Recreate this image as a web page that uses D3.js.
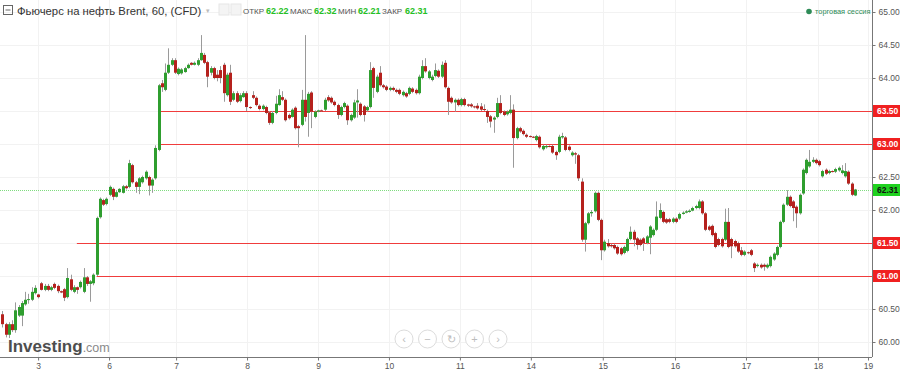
<!DOCTYPE html>
<html>
<head>
<meta charset="utf-8">
<script src="https://cdn.jsdelivr.net/npm/d3@7/dist/d3.min.js"></script>
<style>
  body { margin: 0; background: #fff; }
  svg { display: block; font-family: "Liberation Sans", Arial, sans-serif; }
</style>
</head>
<body>
<svg id="chart" width="900" height="371"></svg>
<script>
// hourly candles, [open, high, low, close]
const bars = [
  [60.42,60.47,60.22,60.27],[60.27,60.29,60.07,60.11],[60.11,60.30,60.06,60.27],[60.27,60.33,60.15,60.18],
  [60.18,60.60,60.14,60.48],[60.40,60.56,60.38,60.53],[60.40,60.62,60.24,60.59],[60.57,60.76,60.55,60.64],
  [60.64,60.73,60.58,60.65],[60.64,60.83,60.62,60.76],[60.74,60.86,60.72,60.82],[60.72,60.73,60.66,60.68],
  [60.89,60.91,60.78,60.79],[60.79,60.88,60.77,60.85],[60.85,60.88,60.77,60.79],[60.79,60.85,60.77,60.83],
  [60.88,60.90,60.80,60.82],[60.85,60.87,60.74,60.77],[60.77,60.78,60.74,60.75],[60.80,60.82,60.62,60.67],
  [60.68,61.12,60.66,60.97],[60.95,61.02,60.77,60.79],[60.76,60.86,60.74,60.83],[60.83,60.84,60.73,60.79],
  [60.83,60.93,60.81,60.91],[60.76,61.12,60.74,60.98],[60.98,61.00,60.85,60.88],[60.88,60.94,60.61,60.92],
  [60.89,61.04,60.86,61.02],[61.02,61.90,61.00,61.88],[61.89,62.19,61.87,62.17],[62.15,62.17,62.06,62.08],
  [62.09,62.19,62.07,62.17],[62.23,62.37,62.21,62.35],[62.32,62.34,62.15,62.20],[62.20,62.29,62.19,62.27],
  [62.27,62.33,62.26,62.32],[62.26,62.38,62.25,62.36],[62.36,62.38,62.31,62.33],[62.35,62.76,62.33,62.71],
  [62.68,62.70,62.40,62.42],[62.42,62.44,62.26,62.35],[62.35,62.50,62.24,62.48],[62.42,62.52,62.40,62.50],
  [62.48,62.60,62.46,62.58],[62.50,62.52,62.22,62.37],[62.37,62.48,62.26,62.46],[62.48,62.98,62.46,62.94],
  [62.91,63.91,62.89,63.89],[63.92,63.97,63.79,63.86],[63.82,64.22,63.80,64.08],[64.08,64.45,64.06,64.20],
  [64.20,64.30,64.18,64.27],[64.27,64.30,64.06,64.08],[64.06,64.16,64.04,64.14],[64.07,64.15,64.05,64.13],
  [64.09,64.17,64.08,64.15],[64.15,64.22,64.14,64.20],[64.23,64.24,64.19,64.20],[64.20,64.25,64.19,64.23],
  [64.20,64.30,64.18,64.27],[64.27,64.65,64.26,64.38],[64.35,64.38,64.21,64.23],[64.24,64.26,63.86,64.02],
  [64.08,64.18,64.04,64.15],[64.15,64.17,63.98,64.00],[64.05,64.12,63.95,64.00],[64.12,64.18,63.92,64.00],
  [64.20,64.23,63.64,63.77],[63.74,64.08,63.72,64.05],[64.08,64.20,63.59,63.64],[63.67,63.80,63.65,63.77],
  [63.77,63.80,63.62,63.64],[63.65,63.77,63.63,63.74],[63.71,63.80,63.70,63.77],[63.77,63.80,63.50,63.56],
  [63.56,63.57,63.53,63.55],[63.74,63.80,63.68,63.70],[63.70,63.72,63.57,63.59],[63.58,63.60,63.51,63.53],
  [63.53,63.60,63.51,63.58],[63.56,63.58,63.45,63.47],[63.48,63.50,63.29,63.32],[63.32,63.50,63.30,63.47],
  [63.47,63.73,63.45,63.61],[63.59,63.83,63.58,63.74],[63.71,63.80,63.65,63.67],[63.67,63.69,63.34,63.36],
  [63.44,63.46,63.37,63.39],[63.41,63.54,63.40,63.52],[63.55,63.57,63.22,63.24],[63.27,63.29,62.95,63.24],
  [63.29,63.82,63.27,63.67],[63.67,64.65,63.34,63.41],[63.47,63.79,63.11,63.76],[63.78,63.80,63.24,63.49],
  [63.41,63.51,63.39,63.49],[63.49,63.52,63.48,63.51],[63.51,63.52,63.49,63.50],[63.52,63.70,63.50,63.67],
  [63.71,63.74,63.64,63.66],[63.70,63.72,63.61,63.63],[63.64,63.66,63.57,63.59],[63.59,63.61,63.38,63.44],
  [63.44,63.58,63.42,63.56],[63.56,63.64,63.54,63.62],[63.58,63.60,63.29,63.36],[63.36,63.46,63.34,63.44],
  [63.40,63.67,63.38,63.63],[63.63,63.83,63.40,63.66],[63.61,63.63,63.42,63.44],[63.57,63.59,63.34,63.44],
  [63.51,63.58,63.49,63.56],[63.56,64.24,63.54,64.12],[64.15,64.17,63.70,63.85],[63.79,64.05,63.77,64.02],
  [64.08,64.18,63.87,63.89],[63.89,63.91,63.84,63.86],[63.87,63.89,63.80,63.82],[63.82,63.87,63.80,63.85],
  [63.85,63.87,63.80,63.82],[63.82,63.84,63.77,63.79],[63.82,63.84,63.74,63.76],[63.74,63.81,63.72,63.79],
  [63.77,63.79,63.70,63.72],[63.76,63.87,63.74,63.85],[63.84,63.86,63.77,63.79],[63.82,63.84,63.75,63.77],
  [63.77,64.05,63.75,64.02],[64.00,64.27,63.98,64.18],[64.18,64.30,64.08,64.10],[64.00,64.12,63.98,64.10],
  [63.97,64.05,63.95,64.02],[64.03,64.22,64.01,64.12],[64.11,64.13,64.00,64.02],[64.02,64.25,64.00,64.20],
  [64.23,64.27,63.84,63.86],[63.85,63.87,63.44,63.64],[63.70,63.72,63.61,63.63],[63.63,63.69,63.49,63.67],
  [63.67,63.69,63.57,63.59],[63.59,63.70,63.57,63.68],[63.68,63.70,63.57,63.59],[63.60,63.61,63.56,63.58],
  [63.60,63.62,63.55,63.57],[63.57,63.58,63.54,63.56],[63.58,63.62,63.52,63.54],[63.57,63.62,63.50,63.52],
  [63.53,63.60,63.50,63.52],[63.50,63.52,63.32,63.41],[63.42,63.44,63.25,63.34],[63.37,63.42,63.17,63.40],
  [63.41,63.70,63.39,63.62],[63.62,63.74,63.45,63.47],[63.49,63.51,63.42,63.44],[63.45,63.51,63.43,63.49],
  [63.47,63.74,63.45,63.52],[63.52,63.60,62.64,63.09],[63.09,63.26,63.07,63.24],[63.24,63.26,63.17,63.19],
  [63.20,63.22,63.13,63.15],[63.14,63.16,63.09,63.11],[63.12,63.13,63.10,63.11],[63.11,63.12,63.09,63.10],
  [63.06,63.14,63.04,63.12],[63.11,63.13,62.93,62.95],[62.92,62.99,62.90,62.97],[62.95,62.99,62.93,62.97],
  [62.97,62.98,62.95,62.96],[62.97,62.99,62.85,62.87],[62.88,62.90,62.76,62.83],[62.88,63.14,62.86,63.11],
  [63.10,63.17,63.08,63.12],[63.10,63.12,62.89,62.91],[62.96,62.98,62.89,62.91],[62.83,62.89,62.81,62.87],
  [62.86,62.88,62.70,62.84],[62.83,62.85,62.44,62.48],[62.43,62.48,61.52,61.55],[61.55,61.82,61.37,61.80],
  [61.80,61.97,61.78,61.95],[61.95,62.00,61.90,61.97],[61.98,62.28,61.96,62.26],[62.26,62.28,61.83,61.85],
  [61.85,61.87,61.24,61.39],[61.39,61.55,61.37,61.52],[61.50,61.56,61.43,61.45],[61.47,61.49,61.43,61.45],
  [61.47,61.49,61.40,61.42],[61.44,61.46,61.32,61.34],[61.42,61.44,61.31,61.33],[61.35,61.46,61.33,61.44],
  [61.38,61.58,61.36,61.56],[61.56,61.75,61.54,61.67],[61.67,61.70,61.45,61.55],[61.57,61.59,61.40,61.47],
  [61.55,61.57,61.45,61.47],[61.57,61.59,61.38,61.50],[61.50,61.62,61.48,61.60],[61.58,61.77,61.33,61.75],
  [61.62,61.72,61.60,61.70],[61.70,62.13,61.68,61.90],[61.88,62.10,61.86,62.00],[61.97,61.99,61.80,61.82],
  [61.86,61.88,61.79,61.81],[61.86,61.88,61.80,61.82],[61.82,61.89,61.80,61.87],[61.87,61.89,61.80,61.82],
  [61.87,61.96,61.85,61.94],[61.94,61.98,61.93,61.96],[61.96,62.00,61.95,61.98],[61.97,62.01,61.96,61.99],
  [61.99,62.05,61.98,62.03],[62.03,62.08,62.01,62.06],[62.03,62.16,62.01,62.13],[62.13,62.15,61.93,61.95],
  [61.95,61.97,61.68,61.70],[61.75,61.77,61.68,61.70],[61.76,61.78,61.60,61.62],[61.65,61.67,61.42,61.44],
  [61.56,61.58,61.45,61.47],[61.56,61.58,61.43,61.45],[61.55,62.02,61.53,61.82],[61.82,62.03,61.42,61.44],
  [61.56,61.58,61.27,61.45],[61.53,61.55,61.43,61.45],[61.50,61.52,61.35,61.37],[61.39,61.44,61.30,61.32],
  [61.32,61.39,61.30,61.37],[61.36,61.37,61.33,61.35],[61.39,61.41,61.30,61.32],[61.19,61.21,61.06,61.12],
  [61.15,61.19,61.13,61.17],[61.17,61.19,61.11,61.13],[61.17,61.19,61.08,61.14],[61.13,61.19,61.11,61.17],
  [61.15,61.31,61.13,61.29],[61.25,61.36,61.23,61.34],[61.32,61.46,61.30,61.44],[61.44,61.84,61.42,61.82],
  [61.82,62.10,61.80,62.08],[62.08,62.30,62.06,62.20],[62.20,62.22,62.04,62.06],[62.13,62.15,61.83,62.03],
  [62.05,62.07,61.73,61.95],[61.95,62.25,61.93,62.23],[62.25,62.63,62.23,62.61],[62.56,62.78,62.54,62.76],
  [62.66,62.91,62.64,62.73],[62.73,62.80,62.71,62.76],[62.76,62.78,62.69,62.71],[62.74,62.76,62.66,62.68],
  [62.51,62.61,62.49,62.59],[62.61,62.63,62.53,62.55],[62.56,62.61,62.54,62.59],[62.59,62.60,62.57,62.58],
  [62.58,62.64,62.56,62.62],[62.60,62.66,62.58,62.64],[62.56,62.68,62.54,62.60],[62.51,62.71,62.49,62.59],
  [62.58,62.60,62.38,62.40],[62.40,62.42,62.21,62.23],[62.22,62.32,62.21,62.31]
];

// day labels and the candle index they sit under
const dayLabels = ["3", "6", "7", "8", "9", "10", "11", "14", "15", "16", "17", "18", "19"];
const dayIndex = [11, 32.8, 53.4, 75.2, 97, 118.8, 140.6, 162.4, 184.5, 206.7, 228.5, 250.6, 266];

const priceTicks = [60, 60.5, 61, 61.5, 62, 62.5, 63, 63.5, 64, 64.5, 65];

// horizontal levels drawn on the chart: price and the candle index where they start
const levelPrices = [63.5, 63.0, 61.5, 61.0];
const levelStart = [48.5, 48.5, 22.9, 29];

const lastPrice = 62.31;
const ohlcLabels = ["ОТКР", "МАКС", "МИН", "ЗАКР"];
const ohlcValues = ["62.22", "62.32", "62.21", "62.31"];

const plotRight = 872, plotBottom = 357;

const svg = d3.select("#chart");

const x = d3.scaleLinear().domain([0, bars.length - 1]).range([2.3, 855]);
const y = d3.scaleLinear().domain([60, 65]).range([342, 12]);

// grid
svg.append("g")
  .selectAll("line")
  .data(priceTicks)
  .join("line")
  .attr("x1", 0).attr("x2", plotRight)
  .attr("y1", d => Math.round(y(d)) + 0.5).attr("y2", d => Math.round(y(d)) + 0.5)
  .attr("stroke", "#f2f2f2");

svg.append("g")
  .selectAll("line")
  .data(dayIndex)
  .join("line")
  .attr("x1", d => Math.round(x(d)) + 0.5).attr("x2", d => Math.round(x(d)) + 0.5)
  .attr("y1", 0).attr("y2", plotBottom)
  .attr("stroke", "#f2f2f2");

// watermark
const wm = svg.append("text").attr("x", 8).attr("y", 352);
wm.append("tspan").text("Investing")
  .attr("font-size", 17).attr("font-weight", "bold").attr("fill", "#4d4d4d");
wm.append("tspan").text(".com")
  .attr("font-size", 12.5).attr("fill", "#8a8a8a");

// navigation buttons
const navSymbols = ["‹", "−", "↻", "+", "›"];
const nav = svg.append("g").selectAll("g")
  .data(navSymbols)
  .join("g")
  .attr("transform", (d, i) => `translate(${404 + i * 23.5},339)`);
nav.append("circle").attr("r", 9).attr("fill", "#fff").attr("stroke", "#dcdcdc");
nav.append("text").text(d => d)
  .attr("text-anchor", "middle").attr("dy", "0.35em")
  .attr("font-size", 11).attr("fill", "#bdbdbd");

// level lines
svg.append("g")
  .selectAll("line")
  .data(levelPrices)
  .join("line")
  .attr("x1", (d, i) => x(levelStart[i])).attr("x2", plotRight)
  .attr("y1", d => Math.round(y(d)) + 0.5).attr("y2", d => Math.round(y(d)) + 0.5)
  .attr("stroke", "#f03c3c");

// current price dotted line
svg.append("line")
  .attr("x1", 0).attr("x2", plotRight)
  .attr("y1", Math.round(y(lastPrice)) + 0.5).attr("y2", Math.round(y(lastPrice)) + 0.5)
  .attr("stroke", "#7fdc7f").attr("stroke-dasharray", "1,1");

// candles
const candle = svg.append("g").selectAll("g")
  .data(bars)
  .join("g");

candle.append("line")
  .attr("x1", (d, i) => Math.round(x(i)) + 0.5).attr("x2", (d, i) => Math.round(x(i)) + 0.5)
  .attr("y1", d => y(d[1])).attr("y2", d => y(d[2]))
  .attr("stroke", "#9a9a9a");

candle.append("rect")
  .attr("x", (d, i) => Math.round(x(i)) - 1)
  .attr("width", 3)
  .attr("y", d => y(Math.max(d[0], d[3])))
  .attr("height", d => Math.max(1, Math.abs(y(d[0]) - y(d[3]))))
  .attr("fill", d => d[3] >= d[0] ? "#2f9e2f" : "#b5211d");

// axes
const yAxis = svg.append("g")
  .attr("transform", `translate(${plotRight + 0.5},0)`)
  .call(d3.axisRight(y).tickValues(priceTicks).tickFormat(d3.format(".2f")).tickSize(3).tickPadding(3));
yAxis.select(".domain").attr("stroke", "#777").attr("d", `M0,0V${plotBottom}`);
yAxis.selectAll(".tick line").attr("stroke", "#777");
yAxis.selectAll("text").attr("font-size", 8.5).attr("fill", "#555").attr("font-family", null);

const xAxis = svg.append("g")
  .attr("transform", `translate(0,${plotBottom + 0.5})`)
  .call(d3.axisBottom(x).tickValues(dayIndex).tickFormat((d, i) => dayLabels[i]).tickSize(3).tickPadding(2));
xAxis.select(".domain").attr("stroke", "#777").attr("d", `M0,0H${plotRight}`);
xAxis.selectAll(".tick line").attr("stroke", "#777");
xAxis.selectAll("text").attr("font-size", 8.5).attr("fill", "#555").attr("font-family", null);

// level tags on the price axis
const tags = svg.append("g").selectAll("g")
  .data(levelPrices.map(p => ({ p, fill: "#f02020", color: "#fff" }))
    .concat([{ p: lastPrice, fill: "#1fd21f", color: "#111" }]))
  .join("g")
  .attr("transform", d => `translate(${plotRight + 1},${Math.round(y(d.p))})`);
tags.append("rect").attr("x", 0).attr("y", -6).attr("width", 27).attr("height", 12).attr("fill", d => d.fill);
tags.append("text").text(d => d3.format(".2f")(d.p))
  .attr("x", 4).attr("dy", "0.35em")
  .attr("font-size", 8.5).attr("font-weight", "bold").attr("fill", d => d.color);

// header
const head = svg.append("g");
head.append("rect").attr("x", 3.5).attr("y", 5.5).attr("width", 9).attr("height", 9)
  .attr("fill", "none").attr("stroke", "#666");
head.append("line").attr("x1", 5.5).attr("x2", 10.5).attr("y1", 10).attr("y2", 10).attr("stroke", "#666");
head.append("text").attr("x", 17).attr("y", 15)
  .attr("font-size", 11.3).attr("fill", "#333")
  .text("Фьючерс на нефть Brent, 60, (CFD)");
head.append("text").attr("x", 206).attr("y", 13).attr("font-size", 7).attr("fill", "#bbb").text("▾");
[219, 231].forEach(px => {
  head.append("rect").attr("x", px).attr("y", 4).attr("width", 10).attr("height", 11)
    .attr("fill", "#f4f4f4").attr("stroke", "#e6e6e6");
});

const labelX = [243, 290, 338, 382];
const valueX = [266, 314, 358, 405];
ohlcLabels.forEach((lab, i) => {
  head.append("text").attr("x", labelX[i]).attr("y", 14)
    .attr("font-size", 8).attr("fill", "#555").text(lab);
  head.append("text").attr("x", valueX[i]).attr("y", 14)
    .attr("font-size", 9).attr("font-weight", "bold").attr("fill", "#25bf25").text(ohlcValues[i]);
});

head.append("circle").attr("cx", 809).attr("cy", 11.5).attr("r", 2.8).attr("fill", "#2e8b57");
head.append("text").attr("x", 815).attr("y", 14)
  .attr("font-size", 7.4).attr("fill", "#2e8b57").text("торговая сессия");
</script>
</body>
</html>
